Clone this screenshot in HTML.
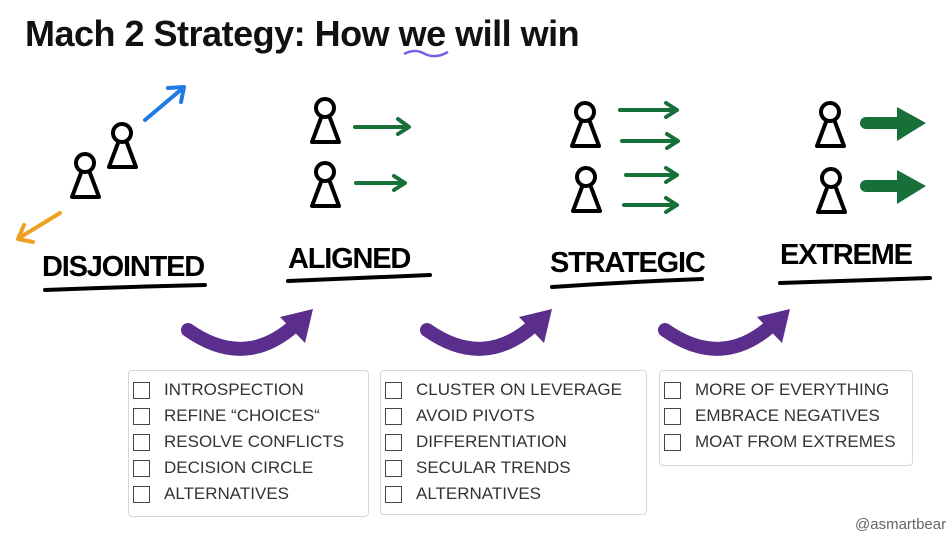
<!DOCTYPE html>
<html><head><meta charset="utf-8"><style>
body{margin:0;width:952px;height:536px;background:#fff;overflow:hidden;position:relative;font-family:"Liberation Sans",sans-serif}
.t{position:absolute;left:25px;top:13px;font-size:36px;font-weight:bold;color:#111;letter-spacing:-0.5px}
.box{position:absolute;border:1px solid #d6d6d6;border-radius:4px;background:#fff;padding:6px 0 0 4px}
.row{height:26px;font-family:"Liberation Sans",sans-serif;font-size:17px;color:#333;white-space:nowrap;display:flex;align-items:center;letter-spacing:0}
.cb{width:15px;height:15px;border:1.5px solid #444;margin-right:14px;flex:none}
.lbl{position:absolute;font-family:"Liberation Sans",sans-serif;font-weight:bold;font-size:29px;color:#000;letter-spacing:-1.2px}
</style></head><body>
<div class="t">Mach 2 Strategy: How we will win</div>
<svg width="952" height="536" style="position:absolute;left:0;top:0">
<defs>
<g id="p" fill="none" stroke="#000" stroke-width="4" stroke-linecap="round" stroke-linejoin="round">
<circle cx="0" cy="0" r="9"/>
<path d="M-4,10 L-13,34 L14,34 L5,10"/>
</g>
</defs>
<path d="M404,54 Q415,48 425,54 Q436,59 448,52" stroke="#7b61e0" stroke-width="2.5" fill="none"/>
<use href="#p" x="85" y="163"/><use href="#p" x="122" y="133"/>
<use href="#p" x="325" y="108"/><use href="#p" x="325" y="172"/>
<use href="#p" x="585" y="112"/><use href="#p" x="586" y="177"/>
<use href="#p" x="830" y="112"/><use href="#p" x="831" y="178"/>
<g fill="none" stroke-linecap="round" stroke-linejoin="round" stroke-width="4">
<path d="M145,120 L183,88 M168,88 L184,87 L181,102" stroke="#1f7ae8"/>
<path d="M60,213 L19,238 M24,225 L18,239 L33,242" stroke="#f0a020"/>
<g stroke="#17703a">
<path d="M355,127 L408,127 M398,119 L409,127 L398,134"/>
<path d="M356,183 L404,183 M394,176 L405,183 L394,190"/>
<path d="M620,110 L676,110 M666,103 L677,110 L666,117"/>
<path d="M622,141 L677,141 M667,134 L678,141 L667,148"/>
<path d="M626,175 L676,175 M666,168 L677,175 L666,182"/>
<path d="M624,205 L676,205 M666,198 L677,205 L666,212"/>
<path d="M866,123 L900,123" stroke-width="12"/>
<path d="M866,186 L900,186" stroke-width="12"/>
</g>
</g>
<g fill="#17703a">
<path d="M897,107 L926,123 L897,141 Z"/><path d="M897,170 L926,186 L897,204 Z"/>
</g>
<g fill="none" stroke="#000" stroke-width="4" stroke-linecap="round">
<path d="M45,290 Q120,287 205,285"/>
<path d="M288,281 Q360,278 430,275"/>
<path d="M552,287 Q625,282 702,279"/>
<path d="M780,283 Q850,281 930,278"/>
</g>
<g fill="none" stroke="#5b2d8c" stroke-width="14" stroke-linecap="round">
<path d="M188,330 Q245,370 295,325"/>
<path d="M427,330 Q484,370 534,325"/>
<path d="M665,330 Q722,370 772,325"/>
</g>
<g fill="#5b2d8c">
<path d="M280,317 L313,309 L305,343 Z"/>
<path d="M519,317 L552,309 L544,343 Z"/>
<path d="M757,317 L790,309 L782,343 Z"/>
</g>
</svg>
<div class="lbl" style="left:42px;top:251px">DISJOINTED</div>
<div class="lbl" style="left:288px;top:243px">ALIGNED</div>
<div class="lbl" style="left:550px;top:247px">STRATEGIC</div>
<div class="lbl" style="left:780px;top:239px">EXTREME</div>
<div class="box" style="left:128px;top:370px;width:235px;height:139px">
<div class="row"><span class="cb"></span>INTROSPECTION</div>
<div class="row"><span class="cb"></span>REFINE “CHOICES“</div>
<div class="row"><span class="cb"></span>RESOLVE CONFLICTS</div>
<div class="row"><span class="cb"></span>DECISION CIRCLE</div>
<div class="row"><span class="cb"></span>ALTERNATIVES</div>
</div>
<div class="box" style="left:380px;top:370px;width:261px;height:137px">
<div class="row"><span class="cb"></span>CLUSTER ON LEVERAGE</div>
<div class="row"><span class="cb"></span>AVOID PIVOTS</div>
<div class="row"><span class="cb"></span>DIFFERENTIATION</div>
<div class="row"><span class="cb"></span>SECULAR TRENDS</div>
<div class="row"><span class="cb"></span>ALTERNATIVES</div>
</div>
<div class="box" style="left:659px;top:370px;width:248px;height:88px">
<div class="row"><span class="cb"></span>MORE OF EVERYTHING</div>
<div class="row"><span class="cb"></span>EMBRACE NEGATIVES</div>
<div class="row"><span class="cb"></span>MOAT FROM EXTREMES</div>
</div>
<div style="position:absolute;left:855px;top:516px;font-size:15px;color:#666">@asmartbear</div>
</body></html>
